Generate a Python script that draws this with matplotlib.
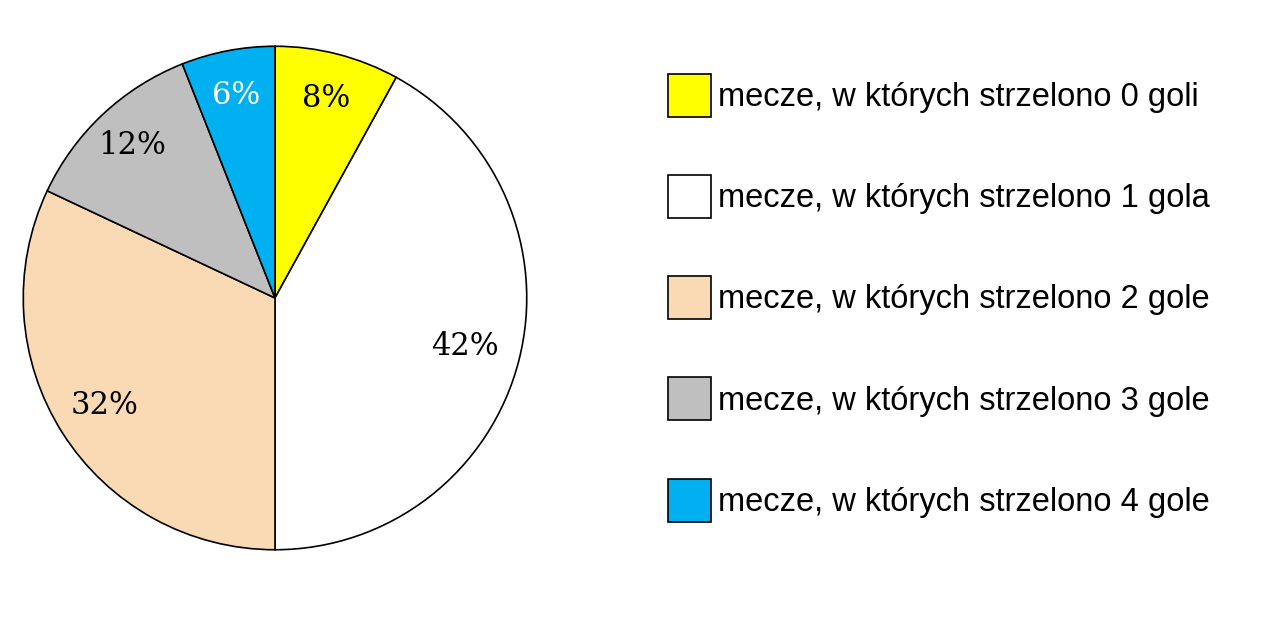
import matplotlib
matplotlib.use("Agg")
import matplotlib.pyplot as plt
import numpy as np

labels = ["mecze, w których strzelono 0 goli",
          "mecze, w których strzelono 1 gola",
          "mecze, w których strzelono 2 gole",
          "mecze, w których strzelono 3 gole",
          "mecze, w których strzelono 4 gole"]
values = [8, 42, 32, 12, 6]
colors = ["#FFFF00", "#FFFFFF", "#F9DAB4", "#BFBFBF", "#00B0F0"]
label_colors = ["black", "black", "black", "black", "white"]
label_dist = [0.82, 0.78, 0.80, 0.83, 0.82]

W, H = 1275, 621
fig = plt.figure(figsize=(W / 100, H / 100), dpi=100)
cx, cy, r = 275, 298, 253
ax = fig.add_axes([(cx - r) / W, (H - cy - r) / H, 2 * r / W, 2 * r / H])

wedges, texts, autotexts = ax.pie(
    values, colors=colors, startangle=90, counterclock=False, radius=1,
    autopct=lambda p: f"{p:.0f}%", pctdistance=0.82,
    wedgeprops=dict(edgecolor="black", linewidth=1.2),
    textprops=dict(family="DejaVu Serif", fontsize=22))
for w, t, c, d in zip(wedges, autotexts, label_colors, label_dist):
    t.set_color(c)
    ang = np.deg2rad((w.theta1 + w.theta2) / 2)
    t.set_position((d * np.cos(ang), d * np.sin(ang)))
ax.set_xlim(-1.005, 1.005)
ax.set_ylim(-1.005, 1.005)
ax.set_aspect("equal")
ax.axis("off")

leg = fig.legend(wedges, labels, loc="upper left",
                 bbox_to_anchor=(668 / W, 1 - 74 / H),
                 frameon=False, prop=dict(family="Liberation Sans", size=23.5),
                 handlelength=1.32, handleheight=1.652, handletextpad=0.21,
                 labelspacing=1.78, borderpad=0, borderaxespad=0)
for p in leg.get_patches():
    p.set_linewidth(1.2)
    p.set_edgecolor("black")

fig.savefig("out.png", dpi=100)
